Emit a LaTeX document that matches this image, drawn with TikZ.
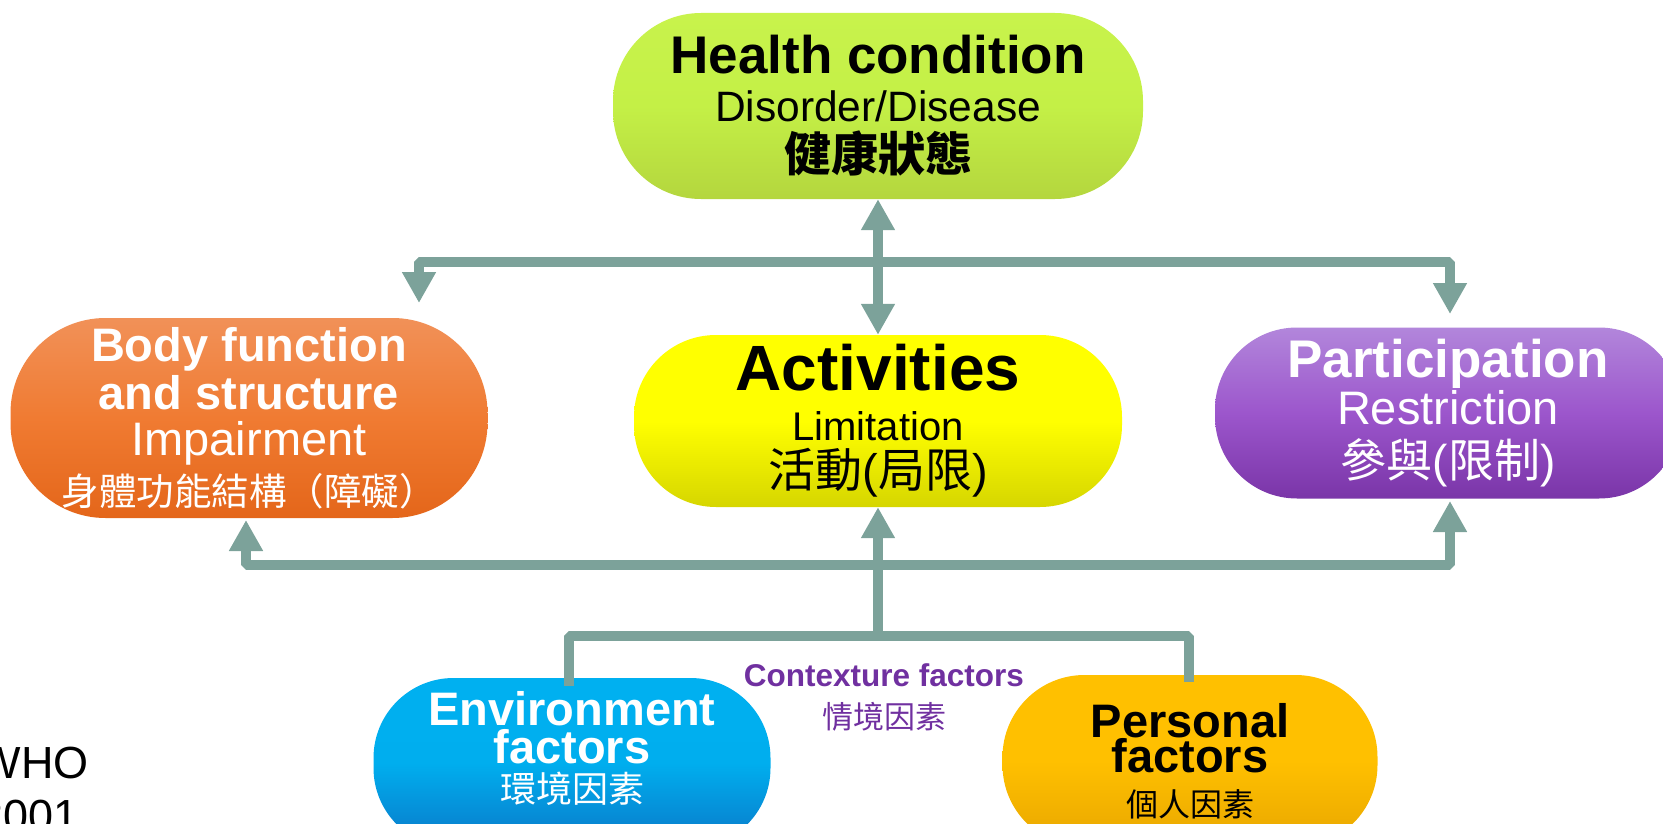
\documentclass[tikz,border=0pt]{standalone}
\usepackage{fontspec}
\setmainfont{Liberation Sans}
\newfontfamily\cjk{Noto Sans CJK TC}
\usepackage{tikz}
\usetikzlibrary{arrows.meta}
\definecolor{linkgray}{HTML}{7CA29A}
\definecolor{ctxpurple}{HTML}{7030A0}
\definecolor{hcTop}{HTML}{C8F34C}
\definecolor{hcMid}{HTML}{C4F046}
\definecolor{hcBot}{HTML}{B4D63E}
\definecolor{acTop}{HTML}{FFFF00}
\definecolor{acBot}{HTML}{D6D600}
\definecolor{bfTop}{HTML}{F19158}
\definecolor{bfMid}{HTML}{F07B32}
\definecolor{bfBot}{HTML}{E4661A}
\definecolor{paTop}{HTML}{B286DB}
\definecolor{paMid}{HTML}{9C56CC}
\definecolor{paBot}{HTML}{7A35A8}
\definecolor{enTop}{HTML}{00B0F0}
\definecolor{enMid}{HTML}{00AEEE}
\definecolor{enBot}{HTML}{0A78C8}
\definecolor{peTop}{HTML}{FFC000}
\definecolor{peBot}{HTML}{E8A600}
\def\fs#1#2{\fontsize{#1}{#2}\selectfont}

\begin{document}
\begin{tikzpicture}[x=1pt,y=-1pt,
    pill/.style={inner sep=0pt,align=center,rounded corners=#1},
    link/.style={draw=linkgray,line width=10pt,line join=bevel},
    >={Triangle[width=32pt,length=31pt]}]
		%%%%% START %%%%%
		\useasboundingbox (0,0) rectangle (1663,824);
		
		\node[pill=88pt, minimum width=530pt, minimum height=186pt, top color=hcTop, bottom color=hcBot, middle color=hcMid, font=\fs{42.5}{48}] (health) at (878,106)
			{{\fs{53}{48}\bfseries Health condition}\\ Disorder/Disease\\[2pt] {\cjk\bfseries\fs{47}{48}健康狀態}};
		
		\node[pill=82pt, minimum width=488pt, minimum height=172pt, top color=acTop, bottom color=acBot, middle color=acTop, font=\fs{40}{48}] (act) at (878,421)
			{{\fs{64}{48}\bfseries Activities}\\[2pt] Limitation\\[-1pt] {\fs{47}{48}{\cjk 活動}({\cjk 局限})}};
		
		\node[pill=95pt, minimum width=477pt, minimum height=200pt, top color=bfTop, bottom color=bfBot, middle color=bfMid, text=white, font=\fs{47}{48}] (body) at (249,418)
			{\bfseries Body function\\ \bfseries and structure\\[-2pt] Impairment\\[2pt] {\cjk\fs{37.5}{48}身體功能結構（障礙）}};
		
		\node[pill=82pt, minimum width=466pt, minimum height=171pt, top color=paTop, bottom color=paBot, middle color=paMid, text=white, font=\fs{47}{48}] (part) at (1448,413)
			{{\fs{53}{48}\bfseries Participation}\\[-1pt] Restriction\\[5pt] {\fs{46}{48}{\cjk 參與}({\cjk 限制})}};
		
		\node[pill=80pt, minimum width=397pt, minimum height=170pt, top color=enTop, bottom color=enBot, middle color=enMid, text=white, font=\fs{47}{38}] (env) at (572,763)
			{\bfseries Environment\\ \bfseries factors\\[1pt] {\cjk\fs{36}{38}環境因素}\rule[-32pt]{0pt}{0pt}};
		
		\node[pill=82pt, minimum width=375pt, minimum height=172pt, top color=peTop, bottom color=peBot, middle color=peTop, font=\fs{47}{38}] (pers) at (1190,761)
			{\bfseries Personal\\[-3pt] \bfseries factors\\[6pt] {\cjk\fs{32}{38}個人因素}};
		
		\node[align=center, text=ctxpurple, font=\fs{31.5}{42}] (ctxlabel) at (884,697)
			{\bfseries Contexture factors\\ {\cjk\fs{31}{42}情境因素}};
		
		\node[anchor=west, align=left, font=\fs{45}{53}] (who) at (-25,790) {WHO\\2001};
		
		% connectors
		\coordinate (bf-top) at (419,303);
		\coordinate (pa-top) at (1450,314);
		\coordinate (bf-bot) at (246,520);
		\coordinate (pa-bot) at (1450,501);
		\coordinate (upbar) at (878,262);
		\coordinate (lowbar) at (878,565);
		\coordinate (ctx) at (878,636);
		\coordinate (env-in) at (569,686);
		\coordinate (pe-in) at (1189,682);
		
		\draw[link,<->] (health) -- (act);
		\draw[link,<->] (bf-top) |- (upbar) -| (pa-top);
		\draw[link,<->] (bf-bot) |- (lowbar) -| (pa-bot);
		\draw[link,->] (ctx) -- (act);
		\draw[link] (env-in) |- (ctx) -| (pe-in);
		
		%%%%% END %%%%%
	\end{tikzpicture}
\end{document}
